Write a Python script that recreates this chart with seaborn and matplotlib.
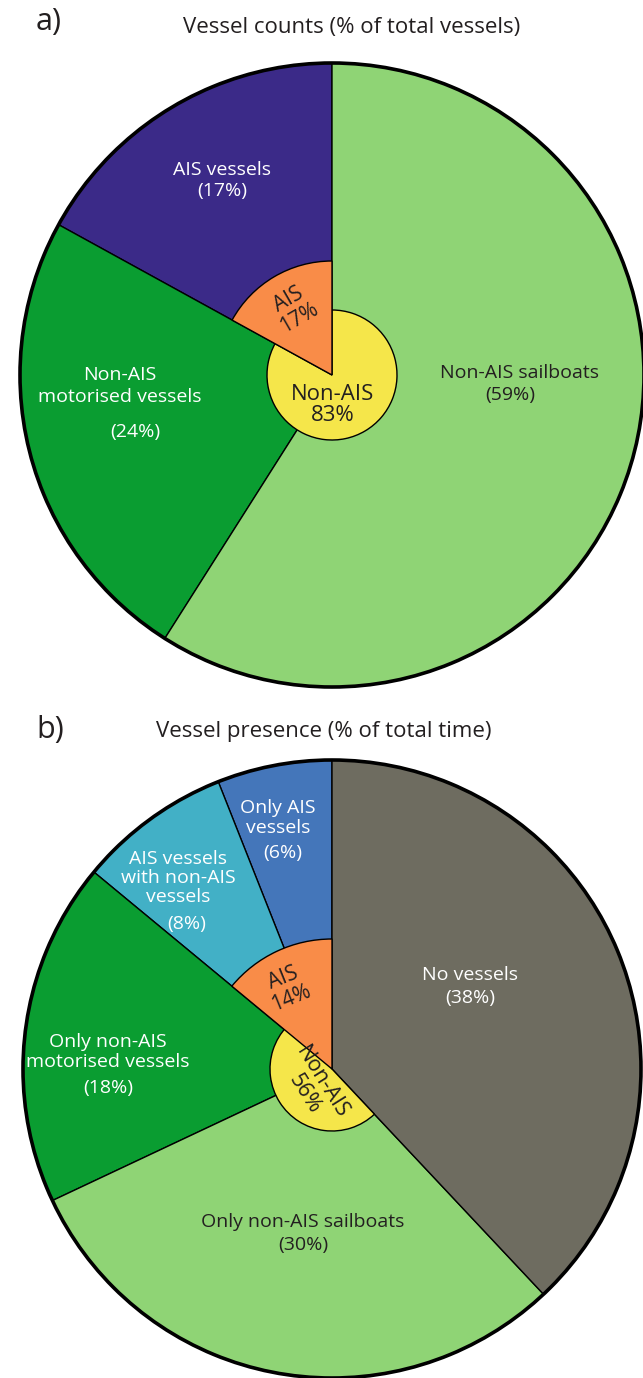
import matplotlib
matplotlib.use("Agg")
import matplotlib.pyplot as plt
import seaborn as sns

sns.set_theme(style="white")
plt.rcParams["font.family"] = ["Open Sans", "DejaVu Sans"]

# --- a) vessel counts (% of total vessels) ---
count_groups = ["AIS vessels", "Non-AIS\nmotorised vessels", "Non-AIS sailboats"]
count_pct = [17, 24, 59]
count_inner = ["AIS", "Non-AIS"]
count_inner_pct = [17, 83]

# --- b) vessel presence (% of total time) ---
presence_groups = ["Only AIS\nvessels", "AIS vessels\nwith non-AIS\nvessels",
                   "Only non-AIS\nmotorised vessels", "Only non-AIS sailboats", "No vessels"]
presence_pct = [6, 8, 18, 30, 38]
presence_inner = ["AIS", "Non-AIS"]
presence_inner_pct = [14, 56]

count_colors = ["#3b2a88", "#0a9d31", "#8fd475"]
presence_colors = ["#4476ba", "#42b0c6", "#0a9d31", "#8fd475", "#6e6c60"]
ais_color = "#f98c48"
nonais_color = "#f5e64a"
dark = "#231f20"

W, H = 643, 1378
fig = plt.figure(figsize=(W / 100, H / 100), dpi=100)
ax = fig.add_axes([0, 0, 1, 1])


def ring(values, colors, center, radius, lw=1.0, z=1, show=None):
    wedges, _ = ax.pie(values, colors=colors, startangle=90, counterclock=True,
                       center=(center[0], H - center[1]), radius=radius, frame=False,
                       wedgeprops=dict(edgecolor="black", linewidth=lw))
    for i, w in enumerate(wedges):
        w.set_zorder(z)
        if show is not None and i not in show:
            w.set_visible(False)
    return wedges


def txt(x, y, s, color="white", size=14, rot=0, ls=1.2):
    ax.text(x, H - y, s, ha="center", va="center", color=color, fontsize=size,
            rotation=rot, linespacing=ls, zorder=10)


# ---------- panel a ----------
ca, ra = (332, 375), 312
ring(count_pct, count_colors, ca, ra, z=1)
ring([1], ["none"], ca, ra, lw=2.6, z=5)
# non-AIS (yellow) then AIS (orange) on top
ring([count_inner_pct[0], count_inner_pct[1]], ["none", nonais_color], ca, 65, z=2, show=[1])
ring([count_inner_pct[0], count_inner_pct[1]], [ais_color, "none"], ca, 114, z=3, show=[0])

a_name_pos = [(222, 170), (120, 386), (520, 373)]
a_pct_pos = [(222, 191), (135, 432), (510, 395)]
a_text_col = ["white", "white", dark]
for name, pct, npos, ppos, col in zip(count_groups, count_pct, a_name_pos, a_pct_pos, a_text_col):
    txt(*npos, name, color=col, ls=1.3)
    txt(*ppos, f"({pct}%)", color=col)

txt(294, 309, f"{count_inner[0]}\n{count_inner_pct[0]}%", color=dark, size=15, rot=30, ls=1.05)
txt(333, 405, f"{count_inner[1]}\n{count_inner_pct[1]}%", color=dark, size=16, ls=1.05)

ax.text(36, H - 22, "a)", ha="left", va="center", fontsize=22, color=dark)
txt(352, 28, "Vessel counts (% of total vessels)", color=dark, size=16)

# ---------- panel b ----------
cb, rb = (332, 1069), 309
ring(presence_pct, presence_colors, cb, rb, z=1)
ring([1], ["none"], cb, rb, lw=2.6, z=5)
rest = 100 - presence_pct[0] - presence_inner_pct[1]
ring([presence_pct[0], presence_inner_pct[1], rest], ["none", nonais_color, "none"],
     cb, 62, z=2, show=[1])
ring([presence_inner_pct[0], 100 - presence_inner_pct[0]], [ais_color, "none"],
     cb, 130, z=3, show=[0])

b_name_pos = [(278, 818), (178, 878), (108, 1052), (303, 1222), (470, 975)]
b_pct_pos = [(283, 853), (187, 924), (108, 1088), (303, 1245), (470, 998)]
b_text_col = ["white", "white", "white", dark, "white"]
for name, pct, npos, ppos, col in zip(presence_groups, presence_pct, b_name_pos, b_pct_pos, b_text_col):
    txt(*npos, name, color=col, ls=1.1)
    txt(*ppos, f"({pct}%)", color=col)

txt(287, 988, f"{presence_inner[0]}\n{presence_inner_pct[0]}%", color=dark, size=15, rot=22, ls=1.05)
txt(313, 1088, f"{presence_inner[1]}\n{presence_inner_pct[1]}%", color=dark, size=15.5, rot=-58, ls=1.0)

ax.text(36, H - 730, "b)", ha="left", va="center", fontsize=22, color=dark)
txt(324, 732, "Vessel presence (% of total time)", color=dark, size=16)

ax.set_xlim(0, W)
ax.set_ylim(0, H)
ax.set_aspect("equal")
ax.axis("off")

fig.savefig("out.png", dpi=100)
